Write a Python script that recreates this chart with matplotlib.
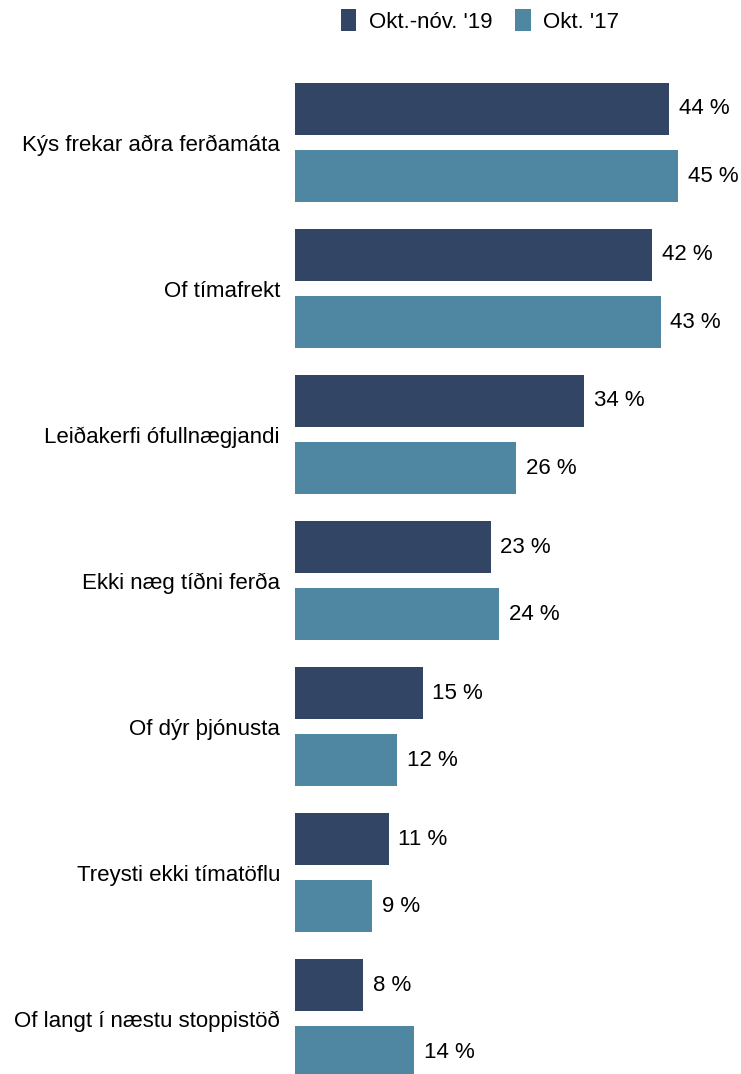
import matplotlib
matplotlib.use("Agg")
import matplotlib.pyplot as plt
import numpy as np

plt.rcParams['font.family'] = ['Liberation Sans', 'DejaVu Sans']

categories = ["Kýs frekar aðra ferðamáta", "Of tímafrekt", "Leiðakerfi ófullnægjandi",
              "Ekki næg tíðni ferða", "Of dýr þjónusta", "Treysti ekki tímatöflu",
              "Of langt í næstu stoppistöð"]
series_names = ["Okt.-nóv. '19", "Okt. '17"]
values_2019 = [44, 42, 34, 23, 15, 11, 8]
values_2017 = [45, 43, 26, 24, 12, 9, 14]
colors = ["#324564", "#4F87A2"]

W, H = 741, 1074
FS = 16
fig = plt.figure(figsize=(W/100, H/100), dpi=100)
ax = fig.add_axes([295/W, 0, (W-295)/W, 1])

y = np.arange(len(categories))
off = 0.2295
bh = 0.356
b1 = ax.barh(y - off, values_2019, height=bh, color=colors[0], label=series_names[0])
b2 = ax.barh(y + off, values_2017, height=bh, color=colors[1], label=series_names[1])

for bars, vals in ((b1, values_2019), (b2, values_2017)):
    for rect, v in zip(bars, vals):
        ax.annotate(f"{v} %", (rect.get_width(), rect.get_y() + rect.get_height()/2),
                    xytext=(7.2, 0), textcoords="offset points", ha="left", va="center",
                    fontsize=FS, color="black")

ax.set_xlim(0, (W-295)/8.5)
ax.set_ylim(6.38, -0.976)
ax.set_yticks(y)
ax.set_yticklabels(categories, fontsize=FS)
ax.tick_params(axis='y', length=0, pad=10.8)
ax.set_xticks([])
for s in ax.spines.values():
    s.set_visible(False)

fig.legend(handles=[b1, b2], labels=series_names, loc="center", bbox_to_anchor=(480/W, 1 - 21/H),
           ncol=2, frameon=False, fontsize=FS, handlelength=0.68, handleheight=1.14,
           handletextpad=0.55, columnspacing=1.05)

fig.savefig("out.png", dpi=100)
